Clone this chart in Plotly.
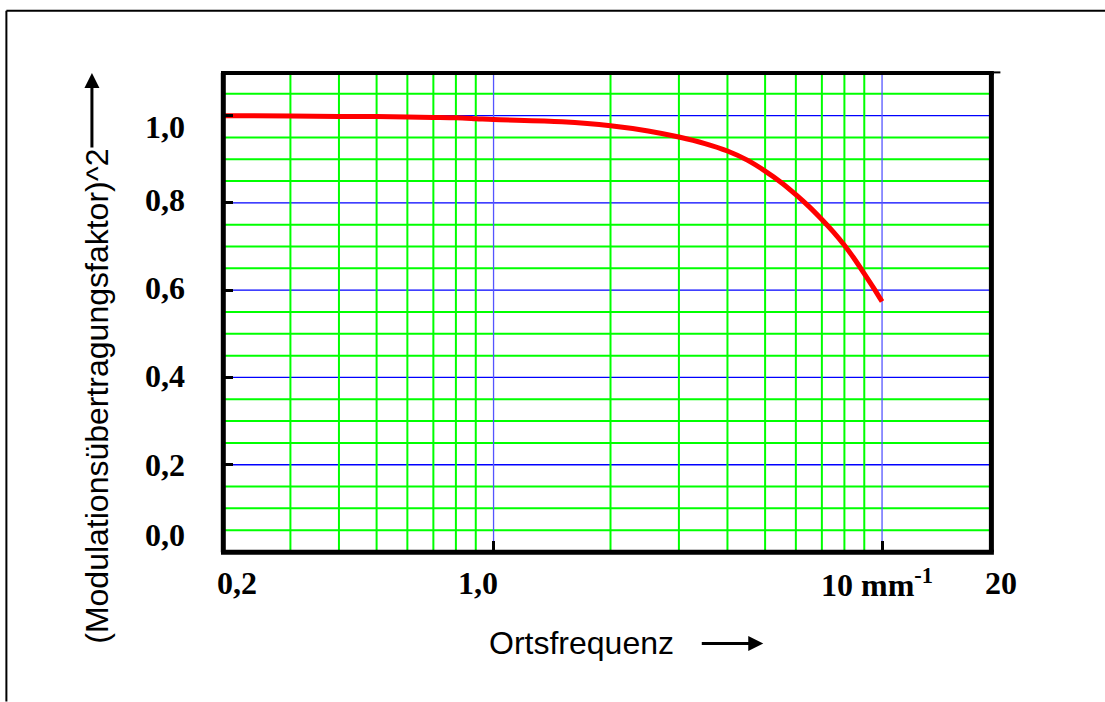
import plotly.graph_objects as go

# ---- data ----
freq = [0.2, 0.3, 0.4, 0.5, 0.6, 0.7, 0.8, 0.9, 1.0, 1.5, 2.0, 2.5, 3.0, 3.5, 4.0,
        4.5, 5.0, 5.5, 6.0, 6.5, 7.0, 7.5, 8.0, 8.5, 9.0, 9.5, 10.0]
mtf2 = [1.000, 0.999, 0.998, 0.998, 0.997, 0.996, 0.995, 0.993, 0.991, 0.986, 0.977,
        0.965, 0.951, 0.936, 0.919, 0.898, 0.873, 0.847, 0.819, 0.791, 0.762, 0.733,
        0.703, 0.671, 0.638, 0.606, 0.574]

x_major_grid = [1, 10]
x_minor_grid = [0.3, 0.4, 0.5, 0.6, 0.7, 0.8, 0.9, 2, 3, 4, 5, 6, 7, 8, 9]
y_major_grid = [0.2, 0.4, 0.6, 0.8, 1.0]
y_minor_grid = [0.05, 0.1, 0.15, 0.25, 0.3, 0.35, 0.45, 0.5, 0.55, 0.65, 0.7, 0.75,
                0.85, 0.9, 0.95, 1.05]

y_tick_vals = [1.0, 0.8, 0.6, 0.4, 0.2, 0.0]
y_tick_text = ["1,0", "0,8", "0,6", "0,4", "0,2", "0,0"]
x_tick_vals = [0.2, 1.0, 10, 20]
x_tick_text = ["0,2", "1,0", "10 mm<sup>-1</sup>", "20"]

x_title = "Ortsfrequenz"
y_title = "(Modulationsübertragungsfaktor)^2"

# ---- layout geometry (pixels) ----
W_FIG, H_FIG = 1105, 702
L, R_EDGE = 222.0, 998.6
T, B_EDGE = 71.9, 552.3
PW, PH = R_EDGE - L, B_EDGE - T


def px(x):
    return (x - L) / PW


def py(y):
    return (B_EDGE - y) / PH


GREEN = "#00ff00"
BLUE = "#0000ff"
SERIF = "Liberation Serif, Times New Roman, serif"
SANS = "Liberation Sans, Arial, sans-serif"

fig = go.Figure()
fig.add_trace(go.Scatter(x=freq, y=mtf2, mode="lines",
                         line=dict(color="#ff0000", width=5, shape="spline", smoothing=1.0),
                         hoverinfo="skip", showlegend=False))

shapes = []
frame_right = px(991)
# horizontal grid lines
for v in y_minor_grid:
    shapes.append(dict(type="line", xref="paper", yref="y", x0=0, x1=frame_right,
                       y0=v, y1=v, line=dict(color=GREEN, width=2), layer="below"))
for v in y_major_grid:
    shapes.append(dict(type="line", xref="paper", yref="y", x0=0, x1=frame_right,
                       y0=v, y1=v, line=dict(color=BLUE, width=1.3), layer="below"))
# vertical grid lines
for v in x_minor_grid:
    shapes.append(dict(type="line", xref="x", yref="paper", x0=v, x1=v, y0=0, y1=1,
                       line=dict(color=GREEN, width=2), layer="below"))
for v in x_major_grid:
    shapes.append(dict(type="line", xref="x", yref="paper", x0=v, x1=v, y0=0, y1=1,
                       line=dict(color="#5555ff", width=1.3), layer="below"))

# plot frame
shapes.append(dict(type="line", xref="paper", yref="paper", x0=px(223.3), x1=px(223.3),
                   y0=py(552.5), y1=py(73), line=dict(color="black", width=5)))
shapes.append(dict(type="line", xref="paper", yref="paper", x0=px(991), x1=px(991),
                   y0=py(552.5), y1=py(73), line=dict(color="black", width=5)))
shapes.append(dict(type="line", xref="paper", yref="paper", x0=px(221), x1=px(993.5),
                   y0=py(73), y1=py(73), line=dict(color="black", width=4)))
shapes.append(dict(type="line", xref="paper", yref="paper", x0=px(221), x1=px(993.5),
                   y0=py(552.5), y1=py(552.5), line=dict(color="black", width=5)))
# small tick at top right
shapes.append(dict(type="line", xref="paper", yref="paper", x0=px(993), x1=px(1000),
                   y0=py(72.3), y1=py(72.3), line=dict(color="black", width=2)))
# outer border
shapes.append(dict(type="line", xref="paper", yref="paper", x0=px(6.5), x1=px(6.5),
                   y0=py(10.5), y1=py(702), line=dict(color="black", width=2)))
shapes.append(dict(type="line", xref="paper", yref="paper", x0=px(6.5), x1=px(1105),
                   y0=py(10.5), y1=py(10.5), line=dict(color="black", width=2)))

annotations = []
y_shifts = [-11, 3, 2, 1, 0, 17]
for v, t, s in zip(y_tick_vals, y_tick_text, y_shifts):
    annotations.append(dict(x=px(165.5), xref="paper", y=v, yref="y", yshift=s,
                            text="<b>%s</b>" % t, showarrow=False,
                            font=dict(family=SERIF, size=32, color="black"),
                            xanchor="center", yanchor="middle"))
x_label_px = [237, 477.5, 819, 1001]
x_anchor = ["center", "center", "left", "center"]
for xv, t, xp, xa in zip(x_tick_vals, x_tick_text, x_label_px, x_anchor):
    annotations.append(dict(x=px(xp), xref="paper", y=py(583), yref="paper",
                            text="<b>%s</b>" % t, showarrow=False,
                            font=dict(family=SERIF, size=32, color="black"),
                            xanchor=xa, yanchor="middle"))

annotations.append(dict(x=px(581), y=py(643), xref="paper", yref="paper", text=x_title,
                        showarrow=False, font=dict(family=SANS, size=32, color="black"),
                        xanchor="center", yanchor="middle"))
annotations.append(dict(x=px(97), y=py(396), xref="paper", yref="paper", text=y_title,
                        textangle=-90, showarrow=False,
                        font=dict(family=SANS, size=32, color="black"),
                        xanchor="center", yanchor="middle"))
# arrows
annotations.append(dict(x=px(763), y=py(644), xref="paper", yref="paper", text="",
                        showarrow=True, ax=-63, ay=0, arrowhead=2, arrowsize=1,
                        arrowwidth=3, arrowcolor="black"))
annotations.append(dict(x=px(92), y=py(73), xref="paper", yref="paper", text="",
                        showarrow=True, ax=0, ay=76, arrowhead=2, arrowsize=1,
                        arrowwidth=3, arrowcolor="black"))

fig.update_layout(
    width=W_FIG, height=H_FIG,
    margin=dict(l=L, r=W_FIG - R_EDGE, t=T, b=H_FIG - B_EDGE, pad=0),
    paper_bgcolor="white", plot_bgcolor="white",
    shapes=shapes, annotations=annotations,
    xaxis=dict(type="log", range=[-0.69897, 1.30103], showgrid=False, zeroline=False,
               showline=False, tickvals=x_major_grid, ticks="inside", ticklen=11,
               tickwidth=3, tickcolor="black", showticklabels=False, fixedrange=True),
    yaxis=dict(range=[0, 1.1], showgrid=False, zeroline=False, showline=False,
               tickvals=y_major_grid, ticks="inside", ticklen=11, tickwidth=3,
               tickcolor="black", showticklabels=False, fixedrange=True),
)

fig.write_html("out.html", config={"displayModeBar": False},
               post_script="document.body.style.margin='0px';")
